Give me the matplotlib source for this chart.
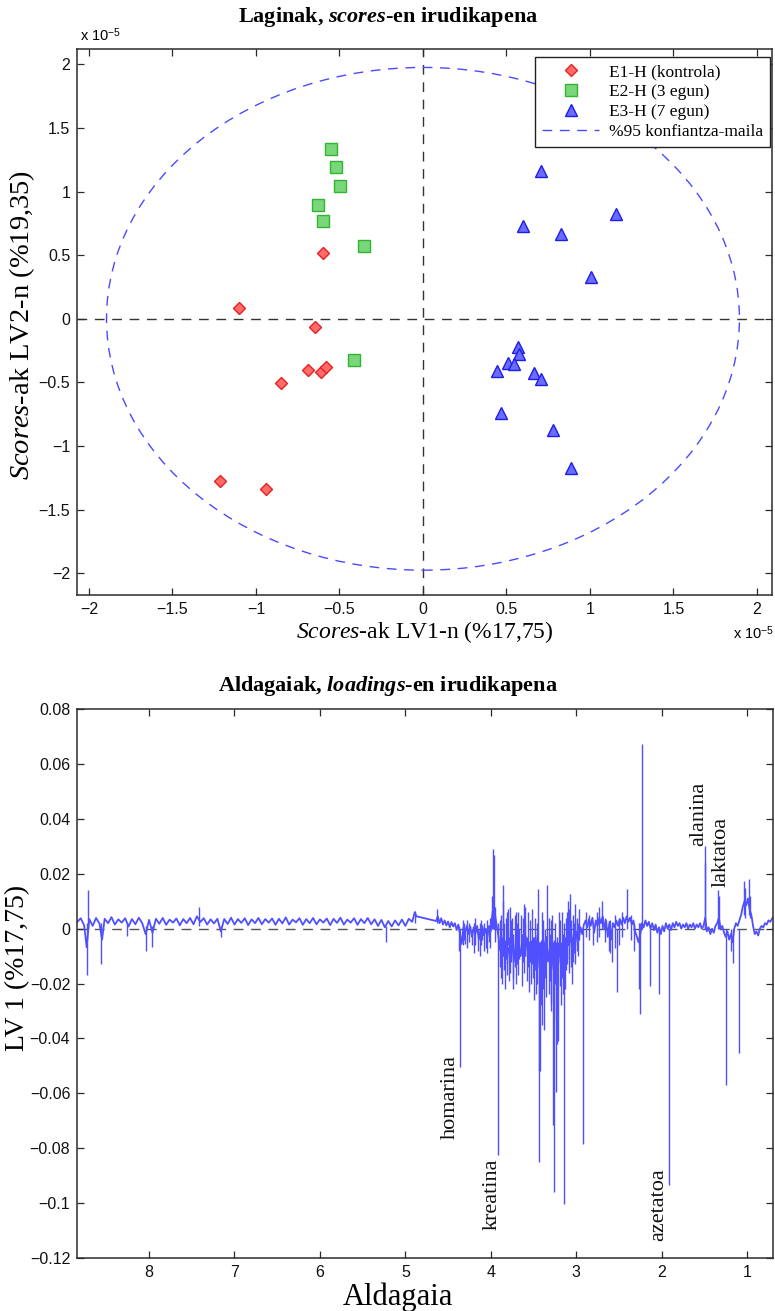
import numpy as np
import matplotlib
matplotlib.use('Agg')
import matplotlib.pyplot as plt
from matplotlib.patches import Ellipse
from matplotlib.lines import Line2D

plt.rcParams.update({
    'font.family': ['Liberation Sans', 'DejaVu Sans'],
    'mathtext.fontset': 'custom',
    'mathtext.rm': 'Liberation Serif',
    'mathtext.it': 'Liberation Serif:italic',
    'mathtext.bf': 'Liberation Serif:bold',
    'mathtext.bfit': 'Liberation Serif:italic:bold',
    'mathtext.sf': 'Liberation Sans',
})

# ---------------- scores (units of 1e-5) ----------------
e1_lv1 = [-1.103, -0.600, -0.647, -0.689, -0.612, -0.582, -0.851, -1.217, -0.941]
e1_lv2 = [0.086, 0.519, -0.063, -0.401, -0.417, -0.377, -0.503, -1.274, -1.336]
e2_lv1 = [-0.552, -0.522, -0.498, -0.629, -0.600, -0.354, -0.414]
e2_lv2 = [1.336, 1.195, 1.046, 0.896, 0.770, 0.574, -0.322]
e3_lv1 = [0.706, 1.153, 0.601, 0.829, 1.009, 0.570, 0.574, 0.508, 0.544,
          0.445, 0.665, 0.706, 0.466, 0.781, 0.887]
e3_lv2 = [1.164, 0.825, 0.726, 0.663, 0.330, -0.222, -0.275, -0.351, -0.356,
          -0.409, -0.422, -0.472, -0.737, -0.873, -1.172]
ellipse_rx = 1.895
ellipse_ry = 1.975
group_labels = ['E1-H (kontrola)', 'E2-H (3 egun)', 'E3-H (7 egun)', '%95 konfiantza-maila']
score_ticks = [-2, -1.5, -1, -0.5, 0, 0.5, 1, 1.5, 2]

# ---------------- loadings (values in 1e-3) ----------------
baseline_a = [
    (8.84, 2.5), (8.80, 3.8), (8.76, 1.2), (8.73, -6.8), (8.70, 3.5), (8.66, 1.0),
    (8.62, 3.9), (8.58, 1.8), (8.55, -4.0), (8.52, 3.6), (8.48, 2.0), (8.44, 4.2),
    (8.40, 1.5), (8.36, 3.4), (8.32, 2.2), (8.28, 3.8), (8.24, 0.8), (8.20, 3.5),
    (8.16, 1.6), (8.12, 4.0), (8.08, 2.0), (8.04, -2.0), (8.00, 3.2), (7.96, -1.5),
    (7.92, 3.6), (7.88, 1.8), (7.84, 3.9), (7.80, 1.4), (7.76, 3.3), (7.72, 2.2),
    (7.68, 3.7), (7.64, 1.2), (7.60, 3.5), (7.56, 2.0), (7.52, 3.9), (7.48, 1.6),
    (7.44, 4.5), (7.40, 2.4), (7.36, 3.8), (7.32, 1.5), (7.28, 3.4), (7.24, 1.9),
    (7.20, 3.6), (7.16, -1.0), (7.12, 3.5), (7.08, 1.7), (7.04, 4.0), (7.00, 1.5),
    (6.96, 3.5), (6.92, 2.1), (6.88, 3.8), (6.84, 1.3), (6.80, 3.4), (6.76, 2.0),
    (6.72, 3.9), (6.68, 1.6), (6.64, 3.5), (6.60, 2.2), (6.56, 3.7), (6.52, 1.4),
    (6.48, 3.6), (6.44, 1.9), (6.40, 4.1), (6.36, 1.5), (6.32, 3.3), (6.28, 2.3),
    (6.24, 3.8), (6.20, 1.4), (6.16, 3.5), (6.12, 2.0), (6.08, 3.9), (6.04, 1.6),
    (6.00, 3.4), (5.96, 2.2), (5.92, 3.7), (5.88, 1.3), (5.84, 3.6), (5.80, 2.1),
    (5.76, 4.0), (5.72, 1.5), (5.68, 3.3), (5.64, 2.2), (5.60, 3.8), (5.56, 1.4),
    (5.52, 3.5), (5.48, 2.0), (5.44, 3.9), (5.40, 1.6), (5.36, 3.4), (5.32, 1.0),
    (5.28, 3.2), (5.24, 0.5), (5.20, 2.8), (5.16, 0.8), (5.12, 3.0), (5.08, 1.2),
    (5.04, 3.3), (5.00, 1.0), (4.96, 3.6), (4.92, 2.5), (4.89, 6.0), (4.87, 4.5),
]
baseline_b = [
    (4.64, 2.8), (4.62, 4.5), (4.60, 2.0), (4.58, 3.8), (4.56, 1.5), (4.54, 3.0),
    (4.52, 1.2), (4.50, 2.6), (4.48, 0.5), (4.46, 2.4), (4.44, 0.8), (4.42, 2.0),
    (4.40, -0.5), (4.38, 1.5), (4.36, -2.0), (4.34, -5.6), (4.32, 0.5), (4.30, -1.5),
    (4.28, 1.0), (4.26, -2.0), (4.24, 0.8), (4.22, -3.0), (4.20, 0.5), (4.18, -1.8),
    (4.16, 1.0), (4.14, -4.0), (4.12, -0.5), (4.10, 1.0), (4.08, -2.5), (4.06, 0.0),
    (4.04, -3.0), (4.02, 1.0), (4.00, -1.0), (3.99, 3.0), (3.97, 8.0), (3.95, 5.0),
    (3.93, 1.0), (3.91, -3.0), (3.89, -8.0), (3.87, -5.0), (3.85, -10.0), (3.83, -6.0),
    (3.81, -11.0), (3.79, -7.0), (3.77, -9.0), (3.75, -4.0), (3.73, -12.0), (3.71, -6.0),
    (3.69, -8.0), (3.67, -5.0), (3.65, -10.0), (3.63, -6.0), (3.61, -9.0), (3.59, -3.0),
    (3.57, -8.0), (3.55, -5.0), (3.53, -11.0), (3.51, -6.0), (3.49, -13.0), (3.47, -7.0),
    (3.45, -2.0), (3.43, -14.0), (3.41, -8.0), (3.39, -16.0), (3.37, -6.0), (3.35, -3.0),
    (3.33, -12.0), (3.31, -7.0), (3.29, -15.0), (3.27, -9.0), (3.25, -18.0), (3.23, -10.0),
    (3.21, -13.0), (3.19, -6.0), (3.17, -9.0), (3.15, -4.0), (3.13, -10.0), (3.11, -3.0),
    (3.09, -6.0), (3.07, -1.0), (3.05, -7.0), (3.03, -2.0), (3.01, -5.0), (2.99, -1.0),
    (2.97, -4.0), (2.95, 0.5), (2.93, -2.0), (2.91, 1.5), (2.89, 3.0), (2.87, 0.5),
    (2.85, 3.5), (2.83, 1.0), (2.81, 4.0), (2.79, -1.5), (2.77, 3.0), (2.75, 1.0),
    (2.73, 4.0), (2.71, 2.0), (2.69, 4.5), (2.67, 0.0), (2.65, 3.0), (2.63, -3.0),
    (2.61, 2.5), (2.59, -4.0), (2.57, 2.0), (2.55, 0.5), (2.53, 3.0), (2.51, 1.0),
    (2.49, 3.5), (2.47, 1.5), (2.45, 4.0), (2.43, 2.0), (2.41, 4.5), (2.39, 2.5),
    (2.37, 4.0), (2.35, 1.5), (2.33, 3.0), (2.31, -1.0), (2.29, -3.0), (2.27, -5.0),
    (2.25, -2.0), (2.23, 2.0), (2.21, 0.5), (2.19, 3.0), (2.17, 1.0), (2.15, 2.5),
    (2.13, 0.0), (2.11, 2.0), (2.09, -0.5), (2.07, 1.5), (2.05, -1.5), (2.03, 0.5),
    (2.01, -2.0), (1.99, 1.0), (1.97, -1.0), (1.95, 2.0), (1.93, 0.0), (1.91, 1.5),
    (1.89, -0.5), (1.87, 2.0), (1.85, 0.5), (1.83, 2.5), (1.81, 1.0), (1.79, 2.0),
    (1.77, 0.0), (1.75, 1.5), (1.73, 0.5), (1.71, 2.0), (1.69, 0.0), (1.67, 1.5),
    (1.65, 0.5), (1.63, 2.0), (1.61, 0.0), (1.59, 1.5), (1.57, 0.5), (1.55, 2.0),
    (1.53, 0.0), (1.51, 1.0), (1.49, 4.0), (1.47, -1.0), (1.45, 0.5), (1.43, -2.0),
    (1.41, 0.0), (1.39, -1.5), (1.37, 1.0), (1.35, 2.0), (1.33, 4.0), (1.31, 0.0),
    (1.29, 1.0), (1.27, -1.5), (1.25, -3.0), (1.23, -1.0), (1.21, -4.0), (1.19, -2.0),
    (1.17, -5.0), (1.15, 0.0), (1.13, 2.0), (1.11, 1.0), (1.09, 3.0), (1.07, 5.0),
    (1.05, 8.0), (1.03, 10.0), (1.01, 8.5), (0.99, 11.0), (0.97, 7.0), (0.95, 5.0),
    (0.93, 1.0), (0.91, -2.0), (0.89, -1.0), (0.87, -2.5), (0.85, 0.0), (0.83, 1.0),
    (0.81, 0.5), (0.79, 2.0), (0.77, 1.5), (0.75, 3.0), (0.73, 2.5), (0.71, 3.5),
    (0.70, 4.0),
]
# spikes: (ppm, low, high) in 1e-3
spikes = [
    (8.73, -17.0, 2.0), (8.715, 0.0, 14.0), (8.56, -12.8, 2.0), (8.26, -2.5, 2.0),
    (8.04, -8.0, 1.0), (7.97, -6.7, 1.0), (7.42, 1.0, 8.0), (7.16, -3.0, 1.0),
    (5.23, -5.0, 1.0), (4.89, 2.0, 6.5), (4.63, 2.0, 7.2),
    (4.375, -8.0, 1.0), (4.366, -50.3, 0.0),
    (4.30, -5.5, 0.0), (4.22, -6.0, 0.0), (4.15, -8.0, 0.0), (4.10, -4.0, 1.0),
    (4.06, -7.0, 0.0), (4.02, -5.0, 1.0),
    (3.985, 0.0, 12.0), (3.975, 0.0, 29.0), (3.965, 0.0, 27.0), (3.955, -5.0, 8.0),
    (3.912, -82.6, 2.0),
    (3.86, -5.0, 16.0), (3.80, -6.0, 7.0), (3.75, -8.0, 4.0), (3.70, -5.0, 6.0),
    (3.65, -8.0, 5.0), (3.60, -10.0, 8.0), (3.45, -8.0, 14.5), (3.40, -9.0, 6.0),
    (3.34, -8.0, 15.8), (3.28, -10.0, 5.0), (3.20, -8.0, 6.0), (3.10, -6.0, 10.0),
    (3.07, -5.0, 12.8), (3.02, -6.0, 9.0), (2.97, -4.0, 7.0),
    (3.745, -22.0, -4.0), (3.557, -23.0, -5.0), (3.50, -18.0, -3.0), (3.47, -24.0, -5.0),
    (3.44, -85.1, -5.0), (3.435, -52.0, -5.0), (3.425, -52.0, -5.0), (3.40, -35.0, -5.0),
    (3.38, -37.0, -5.0), (3.30, -30.0, -5.0), (3.275, -71.7, -5.0), (3.256, -96.0, -5.0),
    (3.24, -59.4, -5.0), (3.225, -42.0, -5.0), (3.21, -41.0, -5.0), (3.18, -28.0, -5.0),
    (3.147, -100.3, -5.0), (3.13, -22.0, -3.0), (3.05, -20.0, -3.0),
    (2.92, -78.6, 0.0), (2.80, -6.0, 2.0), (2.70, 0.0, 10.2), (2.62, -8.0, 2.0),
    (2.58, -12.0, 0.0), (2.52, -23.0, 0.0), (2.405, 0.0, 14.5),
    (2.27, -22.0, 2.0), (2.253, -31.0, 2.0), (2.23, 0.0, 67.5),
    (2.14, -21.0, 0.0), (2.03, -24.0, 0.0), (1.918, -93.6, 0.0),
    (1.495, 0.0, 24.0), (1.488, 0.0, 30.3), (1.34, 0.0, 14.0), (1.33, 0.0, 12.0),
    (1.246, -57.0, 0.0), (1.19, -8.0, 0.0), (1.17, -12.5, 0.0), (1.09, -45.4, 0.0),
    (1.04, 5.0, 17.5), (1.02, 4.0, 15.0), (0.98, 5.0, 18.0), (0.96, 4.0, 12.0),
]
# dense small features (ppm, low, high) in 1e-3
spikes_dense = [
    (4.33, -6, 3), (4.31, -4, 2), (4.28, -7, 3), (4.25, -5, 2), (4.20, -9, 2),
    (4.18, -6, 4), (4.13, -10, 2), (4.11, -6, 3), (4.08, -8, 2), (4.04, -9, 3),
    (4.01, -7, 4),
    (3.895, -14, 3), (3.885, -18, -2), (3.875, -12, 5), (3.865, -20, -3), (3.855, -9, 10),
    (3.845, -15, 2), (3.835, -22, -4), (3.825, -11, 4), (3.815, -17, -2), (3.805, -13, 6),
    (3.79, -19, -3), (3.78, -10, 8), (3.77, -16, 0), (3.76, -12, 3), (3.735, -18, -2),
    (3.72, -14, 5), (3.71, -20, -4), (3.69, -13, 2), (3.68, -17, 6), (3.665, -11, 0),
    (3.64, -21, -2), (3.625, -12, 4), (3.61, -16, 9), (3.595, -10, 2), (3.58, -19, -3),
    (3.565, -14, 6), (3.545, -12, 3), (3.53, -20, -4), (3.515, -13, 7), (3.49, -26, -3),
    (3.48, -15, 4), (3.46, -20, 2), (3.415, -28, -4), (3.39, -22, 3), (3.37, -18, 0),
    (3.355, -25, -3), (3.32, -24, 4), (3.31, -19, -2), (3.29, -27, 3), (3.265, -33, -4),
    (3.245, -20, 2), (3.23, -26, -3), (3.195, -21, 3), (3.17, -18, 6), (3.16, -24, -2),
    (3.14, -17, 2), (3.12, -15, 4), (3.11, -13, 6), (3.09, -16, 2), (3.08, -11, 7),
    (3.06, -14, 3), (3.04, -12, 5), (3.03, -9, 2), (3.01, -13, 3), (2.99, -8, 4),
    (2.98, -10, 2),
    (2.88, -3, 6), (2.85, -4, 5), (2.76, -5, 6), (2.73, -3, 8), (2.66, -5, 4),
    (2.60, -9, 3), (2.55, -7, 5), (2.50, -6, 4), (2.46, -3, 6), (2.36, -4, 5),
    (2.32, -8, 2),
]
annot_names = ['homarina', 'kreatina', 'azetatoa', 'alanina', 'laktatoa']
annot_ppm = [4.474, 3.988, 2.035, 1.567, 1.300]
annot_val = [-0.0459, -0.0839, -0.0875, 0.0303, 0.0153]
annot_va = ['top', 'top', 'top', 'bottom', 'bottom']
ppm_ticks = [8, 7, 6, 5, 4, 3, 2, 1]
load_ticks = [-0.12, -0.1, -0.08, -0.06, -0.04, -0.02, 0, 0.02, 0.04, 0.06, 0.08]

SERIF = 'Liberation Serif'
LINE_BLUE = '#5050ff'
FRAME = '#2b2b2b'


def fmt(v):
    s = f"{v:g}"
    return s.replace('-', '\u2212')


def style_axes(ax):
    for sp in ax.spines.values():
        sp.set_color(FRAME)
        sp.set_linewidth(1.1)
    ax.tick_params(direction='in', length=5, width=0.9, color=FRAME,
                   top=True, right=True, labelsize=11.5, pad=5, labelcolor='#111111')


fig = plt.figure(figsize=(7.75, 13.11), dpi=100)

# ================= top: scores =================
ax1 = fig.add_axes([77.3 / 775, 1 - 595 / 1311, (772 - 77.3) / 775, (595 - 49) / 1311])
ax1.axhline(0, color='#333333', lw=1.0, dashes=(7, 5.5), zorder=1)
ax1.axvline(0, color='#333333', lw=1.0, dashes=(7, 5.5), zorder=1)
ell = Ellipse((0, 0), 2 * ellipse_rx, 2 * ellipse_ry, fill=False,
              edgecolor='#4a4aff', lw=1.0, linestyle=(0, (7, 5.5)), zorder=2)
ax1.add_patch(ell)
h1, = ax1.plot(e1_lv1, e1_lv2, linestyle='none', marker='D', ms=6.5,
               mfc='#ff6b6b', mec='#e82020', mew=1.0, zorder=3)
h2, = ax1.plot(e2_lv1, e2_lv2, linestyle='none', marker='s', ms=8,
               mfc='#7ad67a', mec='#2fb52f', mew=1.0, zorder=3)
h3, = ax1.plot(e3_lv1, e3_lv2, linestyle='none', marker='^', ms=8.5,
               mfc='#6b6bff', mec='#1d1de8', mew=1.0, zorder=3)
h4 = Line2D([], [], color='#4a4aff', lw=1.0, dashes=(7, 5.5))
ax1.set_xlim(-2.07, 2.09)
ax1.set_ylim(-2.17, 2.12)
ax1.set_xticks(score_ticks)
ax1.set_xticklabels([fmt(v) for v in score_ticks])
ax1.set_yticks(score_ticks)
ax1.set_yticklabels([fmt(v) for v in score_ticks])
style_axes(ax1)
leg = ax1.legend([h1, h2, h3, h4], group_labels, loc='upper right',
                 bbox_to_anchor=(0.997, 0.985), borderaxespad=0,
                 prop={'family': SERIF, 'size': 12.5}, frameon=True, fancybox=False,
                 edgecolor='#222222', framealpha=1, handlelength=3.3,
                 handletextpad=0.55, labelspacing=0.22, borderpad=0.4)
leg.get_frame().set_linewidth(1.0)

fig.text(388 / 775, 1 - 17 / 1311, r'Laginak, $\mathbfit{scores}$-en irudikapena',
         family=SERIF, fontweight='bold', fontsize=16, ha='center', va='center')
fig.text(80 / 775, 1 - 35 / 1311, r'x 10$^{\mathsf{-5}}$', fontsize=10.5,
         ha='left', va='center')
fig.text(733 / 775, 1 - 633 / 1311, r'x 10$^{\mathsf{-5}}$', fontsize=10.5,
         ha='left', va='center')
fig.text(425 / 775, 1 - 632 / 1311, r'$\mathit{Scores}$-ak LV1-n (%17,75)',
         family=SERIF, fontsize=17, ha='center', va='center')
fig.text(22 / 775, 1 - 325 / 1311, r'$\mathit{Scores}$-ak LV2-n (%19,35)',
         family=SERIF, fontsize=20.5, ha='center', va='center', rotation=90)

# ================= bottom: loadings =================
ax2 = fig.add_axes([77.3 / 775, 1 - 1257.7 / 1311, (772.7 - 77.3) / 775, (1257.7 - 709.3) / 1311])
ax2.axhline(0, color='#555555', lw=1.0, dashes=(7, 5.5), zorder=1)
pa = np.array(baseline_a)
pb = np.array(baseline_b)
ax2.plot(pa[:, 0], pa[:, 1] * 1e-3, color=LINE_BLUE, lw=1.3, zorder=2)
ax2.plot(np.r_[pa[-1, 0], pb[:, 0]], np.r_[pa[-1, 1], pb[:, 1]] * 1e-3,
         color=LINE_BLUE, lw=1.3, zorder=2)
sp = np.array(spikes)
ax2.vlines(sp[:, 0], sp[:, 1] * 1e-3, sp[:, 2] * 1e-3, color=LINE_BLUE, lw=1.0, zorder=2)
sd = np.array(spikes_dense, dtype=float)
ax2.vlines(sd[:, 0], sd[:, 1] * 1e-3, sd[:, 2] * 1e-3, color=LINE_BLUE, lw=1.0, zorder=2)
ax2.set_xlim(8.84, 0.70)
ax2.set_ylim(-0.12, 0.08)
ax2.set_xticks(ppm_ticks)
ax2.set_xticklabels([fmt(v) for v in ppm_ticks])
ax2.set_yticks(load_ticks)
ax2.set_yticklabels([fmt(v) for v in load_ticks])
style_axes(ax2)
for name, x, y, va in zip(annot_names, annot_ppm, annot_val, annot_va):
    ax2.text(x, y, name, rotation=90, ha='center', va=va, family=SERIF,
             fontsize=16, color='#111111')

fig.text(388 / 775, 1 - 686 / 1311, r'Aldagaiak, $\mathbfit{loadings}$-en irudikapena',
         family=SERIF, fontweight='bold', fontsize=16, ha='center', va='center')
fig.text(398 / 775, 1 - 1283 / 1311, 'Aldagaia', family=SERIF, fontsize=22,
         ha='center', va='top')
fig.text(18 / 775, 1 - 968 / 1311, 'LV 1 (%17,75)', family=SERIF, fontsize=20,
         ha='center', va='center', rotation=90)

fig.savefig('out.png', dpi=100, facecolor='white')
